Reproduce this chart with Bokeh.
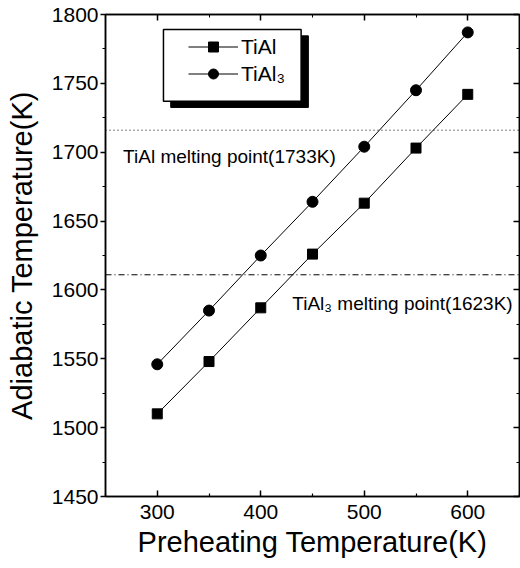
from bokeh.plotting import figure
from bokeh.models import (Range1d, LinearAxis, Span, Label, BoxAnnotation, Legend, LegendItem,
                          FixedTicker, CustomJSTickFormatter)
from bokeh.embed import file_html
from bokeh.resources import INLINE

preheat = [300, 350, 400, 450, 500, 550, 600]
tial = [1510, 1548, 1587, 1626, 1663, 1703, 1742]
tial3 = [1546, 1585, 1625, 1664, 1704, 1745, 1787]
tial_melt_line = 1716
tial3_melt_line = 1611
x_ticks = [300, 400, 500, 600]
x_minor = [250, 350, 450, 550, 650]
y_ticks = [1450, 1500, 1550, 1600, 1650, 1700, 1750, 1800]
y_minor = [1475, 1525, 1575, 1625, 1675, 1725, 1775]

FONT = "Liberation Sans"

p = figure(width=520, height=568, output_backend="svg", toolbar_location=None,
           x_range=Range1d(250, 650), y_range=Range1d(1450, 1800),
           min_border_left=105, min_border_right=1, min_border_top=14, min_border_bottom=72,
           background_fill_color="white", border_fill_color="white")
p.grid.visible = False
p.outline_line_color = "black"
p.outline_line_width = 1.5

for ax in (p.xaxis[0], p.yaxis[0]):
    ax.axis_line_width = 1.5
    ax.major_tick_line_width = 1.5
    ax.minor_tick_line_width = 1.2
    ax.major_label_text_font = FONT
    ax.major_label_text_font_size = "21px"
    ax.major_label_text_color = "black"
    ax.axis_label_text_font = FONT
    ax.axis_label_text_font_size = "29px"
    ax.axis_label_text_font_style = "normal"
    ax.axis_label_text_color = "black"

p.xaxis[0].ticker = FixedTicker(ticks=x_ticks, minor_ticks=x_minor)
p.yaxis[0].ticker = FixedTicker(ticks=y_ticks, minor_ticks=y_minor)
p.xaxis[0].axis_label = "Preheating Temperature(K)"
p.yaxis[0].axis_label = "Adiabatic Temperature(K)"
p.xaxis[0].major_tick_in = 6
p.xaxis[0].major_tick_out = 0
p.xaxis[0].minor_tick_in = 3
p.xaxis[0].minor_tick_out = 0
p.xaxis[0].major_label_standoff = 8
p.xaxis[0].axis_label_standoff = 4
p.yaxis[0].major_tick_in = 0
p.yaxis[0].major_tick_out = 5
p.yaxis[0].minor_tick_in = 0
p.yaxis[0].minor_tick_out = 3
p.yaxis[0].major_label_standoff = 2
p.yaxis[0].axis_label_standoff = 11

# mirrored axes (ticks only)
blank = CustomJSTickFormatter(code="return ''")
top = LinearAxis(ticker=FixedTicker(ticks=x_ticks, minor_ticks=x_minor), formatter=blank)
right = LinearAxis(ticker=FixedTicker(ticks=y_ticks, minor_ticks=y_minor), formatter=blank)
for ax in (top, right):
    ax.major_label_text_font_size = "1px"
    ax.major_label_standoff = 0
    ax.major_tick_in = 6
    ax.major_tick_out = 0
    ax.minor_tick_in = 3
    ax.minor_tick_out = 0
    ax.axis_line_width = 1.5
    ax.major_tick_line_width = 1.5
p.add_layout(top, "above")
p.add_layout(right, "right")

# melting point reference lines
p.add_layout(Span(location=tial_melt_line, dimension="width", line_color="black",
                  line_width=1, line_dash="1 3"))
p.add_layout(Span(location=tial3_melt_line, dimension="width", line_color="black",
                  line_width=1, line_dash="6 3 1 3"))

p.add_layout(Label(x=267, y=1697, text="TiAl melting point(1733K)", text_font=FONT,
                   text_font_size="19px", text_color="black", text_baseline="middle"))
p.add_layout(Label(x=430.5, y=1590, text="TiAl\u2083 melting point(1623K)", text_font=FONT,
                   text_font_size="19px", text_color="black", text_baseline="middle"))

# series
l1 = p.line(preheat, tial, line_color="black", line_width=1)
s1 = p.scatter(preheat, tial, marker="square", size=10, fill_color="black", line_color="black")
l2 = p.line(preheat, tial3, line_color="black", line_width=1)
s2 = p.scatter(preheat, tial3, marker="circle", size=11, fill_color="black", line_color="black")

# legend shadow and frame
p.add_layout(BoxAnnotation(left=313, right=446, top=1784.5, bottom=1732.5,
                           fill_color="black", fill_alpha=1, line_color="black", line_alpha=1,
                           level="annotation"))
p.add_layout(BoxAnnotation(left=306, right=439, top=1789.1, bottom=1737.0,
                           fill_color="white", fill_alpha=1, line_color="black", line_alpha=1,
                           line_width=1.5, level="annotation"))

legend = Legend(items=[LegendItem(label="TiAl", renderers=[l1, s1]),
                       LegendItem(label="TiAl\u2083", renderers=[l2, s2])],
                location=(83, 410), margin=0, padding=0, spacing=2,
                glyph_width=50, glyph_height=25, label_standoff=3,
                label_text_font=FONT, label_text_font_size="21px", label_text_color="black",
                border_line_alpha=0, background_fill_alpha=0)
p.add_layout(legend)

open("out.html", "w").write(file_html(p, INLINE))
